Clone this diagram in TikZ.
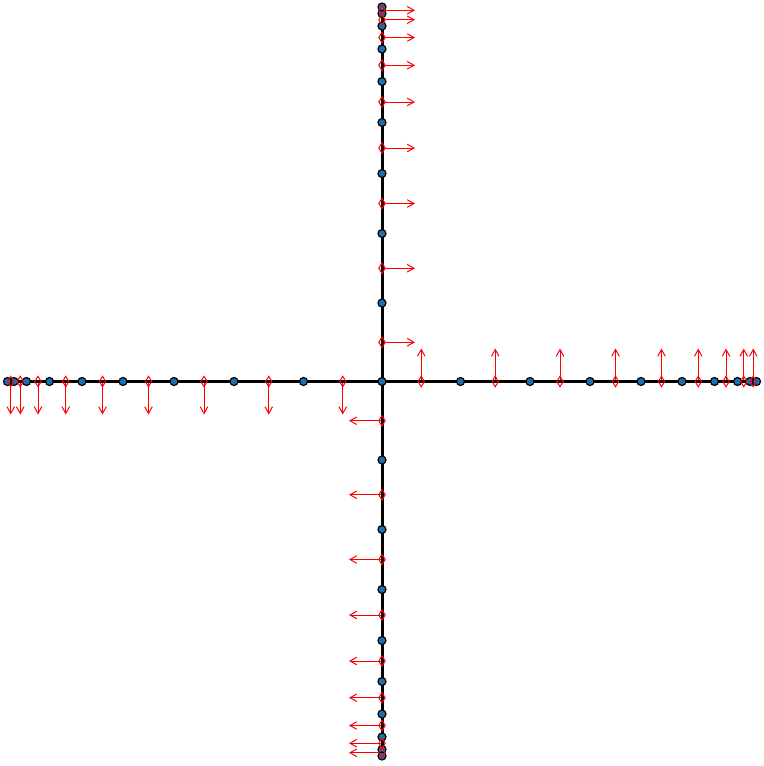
\documentclass[tikz,border=0pt]{standalone}
\usetikzlibrary{arrows.meta,shapes.geometric}
\definecolor{nodeblue}{RGB}{28,112,178}
\pgfdeclarelayer{bg}
\pgfsetlayers{bg,main}
\begin{document}
\begin{tikzpicture}[x=0.5pt,y=-0.5pt,
  axisline/.style={line width=1.5pt,black},
  meshpt/.style={circle,draw=black,fill=nodeblue,line width=0.6pt,inner sep=0pt,minimum size=4pt},
  midpt/.style={diamond,draw=red,line width=0.5pt,inner sep=0pt,minimum width=3.4pt,minimum height=5.4pt},
  normalvec/.style={red,line width=0.5pt,-{Straight Barb[length=3.4pt,width=3.8pt]}}]
\useasboundingbox (0,0) rectangle (764,766);
% mesh nodes
\node[meshpt] (n0) at (382,381.5) {};
\foreach \dir/\dx/\dy in {r/1/0, l/-1/0, u/0/-1, d/0/1} {
  \foreach \d [count=\i] in {78.5,148,208,259,300,332.5,355.5,368,374.5} {
    \node[meshpt] (n\dir\i) at (382+\dx*\d, 381.5+\dy*\d) {};
  }
}
% midpoints and normals
\foreach \dir/\dx/\dy/\ax/\ay in {r/1/0/0/-1, l/-1/0/0/1, u/0/-1/1/0, d/0/1/-1/0} {
  \foreach \m [count=\i] in {39.25,113.25,178,233.5,279.5,316.25,344,361.75,371.25} {
    \node[midpt] (m\dir\i) at (382+\dx*\m, 381.5+\dy*\m) {};
    \coordinate (t\dir\i) at (382+\dx*\m+\ax*33, 381.5+\dy*\m+\ay*33);
    \begin{pgfonlayer}{bg}
      \draw[normalvec] (m\dir\i.center) -- (t\dir\i);
    \end{pgfonlayer}
  }
}
\begin{pgfonlayer}{bg}
  \draw[axisline] (nl9.center) -- (nr9.center);
  \draw[axisline] (nu9.center) -- (nd9.center);
\end{pgfonlayer}
\end{tikzpicture}
\end{document}
